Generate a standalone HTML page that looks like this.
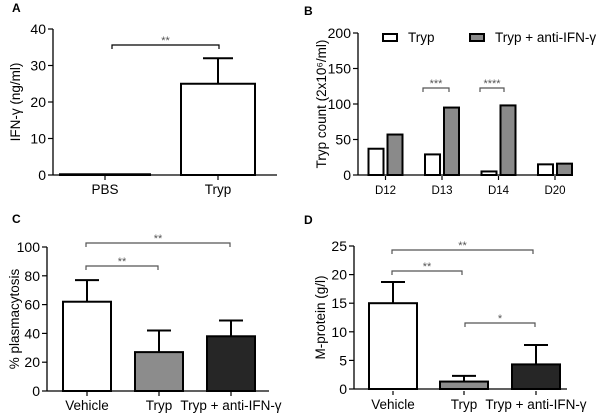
<!DOCTYPE html>
<html><head><meta charset="utf-8"><style>
html,body{margin:0;padding:0;background:#fff;}
svg{display:block;font-family:"Liberation Sans",sans-serif;}
</style></head><body>
<svg id="fig" width="600" height="419" viewBox="0 0 600 419"></svg>
<script>
// Panel A data
const aCats=["PBS","Tryp"];
const aVals=[0.2,25];
const aErr=[0,32];
const aTicks=[0,10,20,30,40];
// Panel B data
const bCats=["D12","D13","D14","D20"];
const bTryp=[37,29,5,15];
const bAnti=[57,95,98,16];
const bTicks=[0,50,100,150,200];
// Panel C data
const cCats=["Vehicle","Tryp","Tryp + anti-IFN-γ"];
const cVals=[62,27,38];
const cErr=[77,42,49];
const cTicks=[0,20,40,60,80,100];
// Panel D data
const dCats=["Vehicle","Tryp","Tryp + anti-IFN-γ"];
const dVals=[15,1.3,4.3];
const dErr=[18.7,2.3,7.7];
const dTicks=[0,5,10,15,20,25];

const NS="http://www.w3.org/2000/svg";
const svg=document.getElementById('fig');
function mk(tag,attrs,parent,text){const e=document.createElementNS(NS,tag);for(const k in attrs)e.setAttribute(k,attrs[k]);if(text!==undefined)e.textContent=text;(parent||svg).appendChild(e);return e;}
function grp(name){const g=mk('g',{});return g;}

function axes(g,x0,x1,yTop,yBot,ticks,max,fs,title,tx){
  const y=v=>yBot-(v/max)*(yBot-yTop);
  const ax=mk('line',{x1:x0,y1:yTop,x2:x0,y2:yBot,stroke:'#000','stroke-width':1.3},g);
  
  const bx=mk('line',{x1:x0,y1:yBot,x2:x1,y2:yBot,stroke:'#000','stroke-width':1.3},g);
  
  ticks.forEach(t=>{
    mk('line',{x1:x0-5,y1:y(t),x2:x0,y2:y(t),stroke:'#000','stroke-width':1.2},g);
    const l=mk('text',{x:x0-7,y:y(t)+fs*0.36,'text-anchor':'end','font-size':fs},g,t);
    
  });
  const cy=(yTop+yBot)/2;
  const tt=mk('text',{x:tx,y:cy,'text-anchor':'middle','font-size':13.5,transform:`rotate(-90 ${tx} ${cy})`},g,title);
  
  return y;
}
function bar(g,x,w,yv,yb,fill,name){const r=mk('rect',{x:x,y:yv,width:w,height:Math.max(yb-yv,0.5),fill:fill,stroke:'#000','stroke-width':2},g);}
function err(g,cx,yv,ye,hw){if(ye>=yv)return;const e=mk('path',{d:`M${cx} ${yv}V${ye}M${cx-hw} ${ye}H${cx+hw}`,stroke:'#000','stroke-width':2,fill:'none'},g);}
function bracket(g,xa,xb,yy,label,col){const b=mk('path',{d:`M${xa} ${yy+4}V${yy}H${xb}V${yy+4}`,stroke:col,'stroke-width':1.2,fill:'none'},g);
  const t=mk('text',{x:(xa+xb)/2,y:yy-1,'text-anchor':'middle','font-size':11,fill:'#555'},g,label);}
function xlabel(g,cx,yy,fs,txt){mk('line',{x1:cx,y1:yy-18,x2:cx,y2:yy-14,stroke:'#000','stroke-width':1.2},g);const t=mk('text',{x:cx,y:yy,'text-anchor':'middle','font-size':fs},g,txt);}
function panelLabel(x,y,t){const e=mk('text',{x:x,y:y,'font-size':12,'font-weight':'bold'},svg,t);}

// Panel A
(function(){
  const g=grp('panel-a-chart');
  const x0=53,x1=277,yTop=29,yBot=175;
  const y=axes(g,x0,x1,yTop,yBot,aTicks,40,14,'IFN-γ (ng/ml)',20);
  const centers=[105,218],w=[90,74];
  aCats.forEach((c,i)=>{
    bar(g,centers[i]-w[i]/2,w[i],y(aVals[i]),yBot,'#fff','bar-'+c.toLowerCase());
    err(g,centers[i],y(aVals[i]),y(aErr[i]),15);
    xlabel(g,centers[i],194,13.5,c);
  });
  bracket(g,112,219,45,'**','#000');
  panelLabel(12,12,'A');
})();

// Panel B
(function(){
  const g=grp('panel-b-chart');
  const x0=358,x1=573,yTop=33,yBot=175;
  const y=axes(g,x0,x1,yTop,yBot,bTicks,200,14,'Tryp count (2x10⁶/ml)',326);
  const centers=[385.5,442,498.5,555];
  bCats.forEach((c,i)=>{
    bar(g,centers[i]-17,15,y(bTryp[i]),yBot,'#fff','bar-tryp-'+c.toLowerCase());
    bar(g,centers[i]+2,15,y(bAnti[i]),yBot,'#8a8a8a','bar-anti-ifn-'+c.toLowerCase());
    xlabel(g,centers[i],194,11.5,c);
  });
  bracket(g,423,449,88,'***','#555');
  bracket(g,480,504,88,'****','#555');
  const lg=grp('legend');
  const l1=mk('rect',{x:383,y:34,width:14,height:7,fill:'#fff',stroke:'#000','stroke-width':2},lg);
  const t1=mk('text',{x:408,y:42,'font-size':13.5},lg,'Tryp');
  const l2=mk('rect',{x:470,y:34,width:14,height:7,fill:'#8a8a8a',stroke:'#000','stroke-width':2},lg);
  const t2=mk('text',{x:495,y:42,'font-size':13.5},lg,'Tryp + anti-IFN-γ');
  panelLabel(304,15,'B');
})();

// Panel C
(function(){
  const g=grp('panel-c-chart');
  const x0=47,x1=269,yTop=247,yBot=391;
  const y=axes(g,x0,x1,yTop,yBot,cTicks,100,14,'% plasmacytosis',19);
  const centers=[87,159,231],fills=['#fff','#8c8c8c','#262626'];
  cCats.forEach((c,i)=>{
    bar(g,centers[i]-24,48,y(cVals[i]),yBot,fills[i],'bar-c-'+i);
    err(g,centers[i],y(cVals[i]),y(cErr[i]),12);
    xlabel(g,centers[i],410,13.5,c);
  });
  bracket(g,86,230,243,'**','#555');
  bracket(g,86,158,266,'**','#555');
  panelLabel(12,223,'C');
})();

// Panel D
(function(){
  const g=grp('panel-d-chart');
  const x0=354,x1=567,yTop=246,yBot=389;
  const y=axes(g,x0,x1,yTop,yBot,dTicks,25,14,'M-protein (g/l)',325);
  const centers=[393,464,536],fills=['#fff','#8c8c8c','#262626'];
  dCats.forEach((c,i)=>{
    bar(g,centers[i]-24,48,y(dVals[i]),yBot,fills[i],'bar-d-'+i);
    err(g,centers[i],y(dVals[i]),y(dErr[i]),12);
    xlabel(g,centers[i],409,13.5,c);
  });
  bracket(g,392,533,250,'**','#555');
  bracket(g,392,462,271,'**','#555');
  bracket(g,465,535,323,'*','#555');
  panelLabel(304,224,'D');
})();
</script>
</body></html>
